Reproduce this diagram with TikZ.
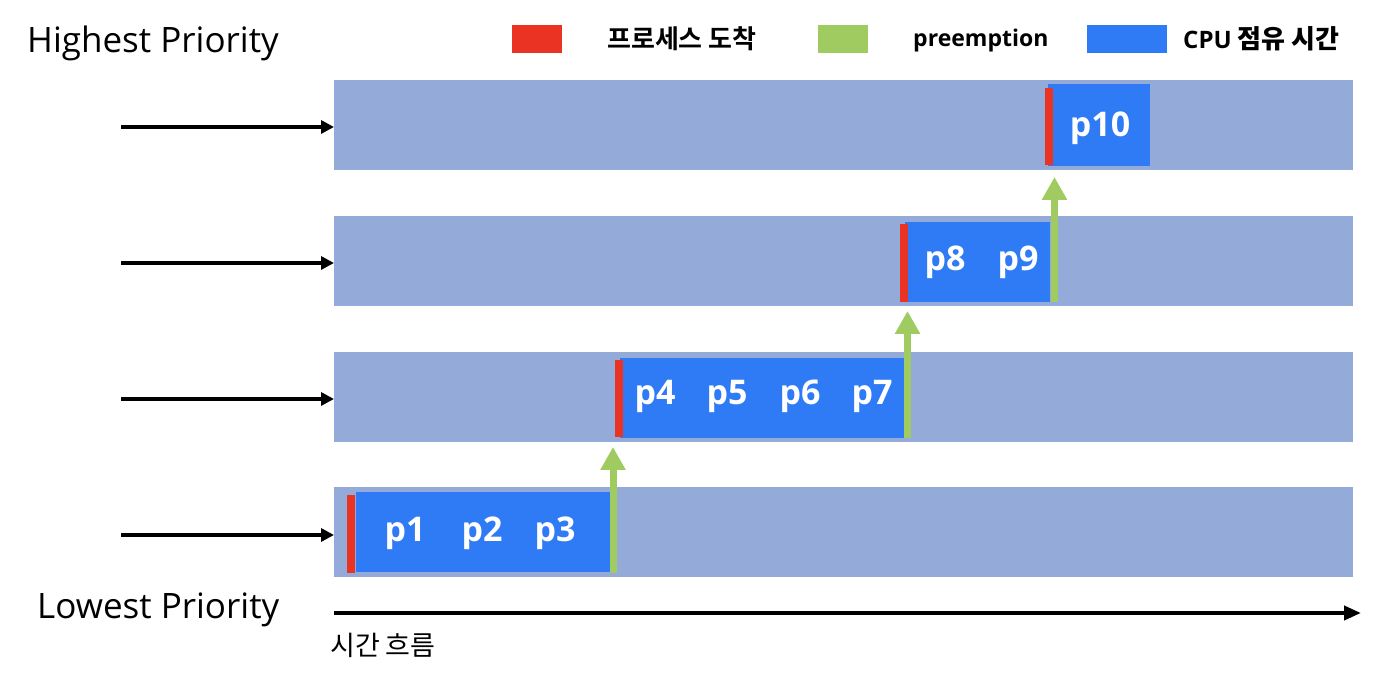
\documentclass[tikz,border=0pt]{standalone}
\usepackage{fontspec}
\setmainfont{Open Sans}
\newfontfamily\kr{Noto Sans CJK KR}
\newfontfamily\krb{Noto Sans CJK KR Bold}
\usetikzlibrary{arrows.meta}
\definecolor{lane}{HTML}{94AAD8}
\definecolor{cpu}{HTML}{2F7BF5}
\definecolor{arr}{HTML}{EA3323}
\definecolor{pre}{HTML}{A0CB61}
\tikzset{
  lanebox/.style={fill=lane, draw=none, minimum width=1019pt, minimum height=90pt, inner sep=0pt, anchor=north west},
  cpubox/.style={fill=cpu, draw=none, inner sep=0pt, anchor=north west},
  arrbar/.style={fill=arr, draw=none, minimum width=8pt, inner sep=0pt, anchor=north west},
  plabel/.style={text=white, font=\fontsize{34}{34}\selectfont\bfseries, inner sep=0pt},
  inarrow/.style={line width=3.5pt, -{Triangle[width=13pt,length=13pt]}},
  prearrow/.style={pre, line width=7pt, -{Triangle[width=24pt,length=23pt]}},
  legbox/.style={draw=none, inner sep=0pt, anchor=north west, minimum height=28pt},
  legtext/.style={font=\fontsize{23}{23}\selectfont\bfseries, anchor=west, inner sep=0pt},
  krlegend/.style={font=\krb\fontsize{26}{26}\selectfont, anchor=west, inner sep=0pt},
  title/.style={font=\fontsize{35}{35}\selectfont, anchor=west, inner sep=0pt},
}
\begin{document}
\begin{tikzpicture}[x=1pt, y=-1pt]
\useasboundingbox (0,0) rectangle (1374,684);
% lanes
\node[lanebox] (l1) at (334,80) {};
\node[lanebox] (l2) at (334,216) {};
\node[lanebox] (l3) at (334,352) {};
\node[lanebox] (l4) at (334,487) {};
% cpu blocks
\node[cpubox, minimum width=254pt, minimum height=80pt] (c4) at (356,492) {};
\node[cpubox, minimum width=285pt, minimum height=80pt] (c3) at (620,358) {};
\node[cpubox, minimum width=145pt, minimum height=80pt] (c2) at (905,222) {};
\node[cpubox, minimum width=102pt, minimum height=82pt] (c1) at (1048,84) {};
% arrival bars
\node[arrbar, minimum height=78pt] (a4) at (347,495) {};
\node[arrbar, minimum height=77pt] (a3) at (615,360) {};
\node[arrbar, minimum height=78pt] (a2) at (900,224) {};
\node[arrbar, minimum height=77pt] (a1) at (1045,88) {};
% labels
\node[plabel] (p1) at (405,533) {p1};
\node[plabel] (p2) at (482,533) {p2};
\node[plabel] (p3) at (555,533) {p3};
\node[plabel] (p4) at (655,396) {p4};
\node[plabel] (p5) at (727,396) {p5};
\node[plabel] (p6) at (800,396) {p6};
\node[plabel] (p7) at (872,396) {p7};
\node[plabel] (p8) at (945,262) {p8};
\node[plabel] (p9) at (1018,262) {p9};
\node[plabel] (p10) at (1100,128) {p10};
% preemption arrows
\coordinate (g4) at (613,573);
\coordinate (g3) at (907.5,438);
\coordinate (g2) at (1054.5,302);
\draw[prearrow] (g4) -- (613,447);
\draw[prearrow] (g3) -- (907.5,311);
\draw[prearrow] (g2) -- (1054.5,177);
% input arrows
\coordinate (s1) at (121,127);
\coordinate (s2) at (121,263);
\coordinate (s3) at (121,399);
\coordinate (s4) at (121,535);
\draw[inarrow] (s1) -- (s1 -| l1.west);
\draw[inarrow] (s2) -- (s2 -| l2.west);
\draw[inarrow] (s3) -- (s3 -| l3.west);
\draw[inarrow] (s4) -- (s4 -| l4.west);
% time axis
\coordinate (t0) at (334,613);
\coordinate (t1) at (1361,613);
\draw[line width=4pt, -{Triangle[width=14pt,length=17pt]}] (t0) -- (t1);
\node[anchor=west, inner sep=0pt, font=\kr\fontsize{27}{27}\selectfont] (tl) at (330,645) {시간 흐름};
% titles
\node[title] (hi) at (27,43) {Highest Priority};
\node[title] (lo) at (37,610) {Lowest Priority};
% legend
\node[legbox, fill=arr, minimum width=50pt] (k1) at (512,25) {};
\node[krlegend] (k1t) at (607,39) {프로세스 도착};
\node[legbox, fill=pre, minimum width=50pt] (k2) at (818,25) {};
\node[legtext] (k2t) at (913,41) {preemption};
\node[legbox, fill=cpu, minimum width=80pt] (k3) at (1087,25) {};
\node[legtext, font=\fontsize{24}{24}\selectfont\bfseries] (k3t) at (1183,39) {CPU {\krb\fontsize{26}{26}\selectfont 점유 시간}};
\end{tikzpicture}
\end{document}
